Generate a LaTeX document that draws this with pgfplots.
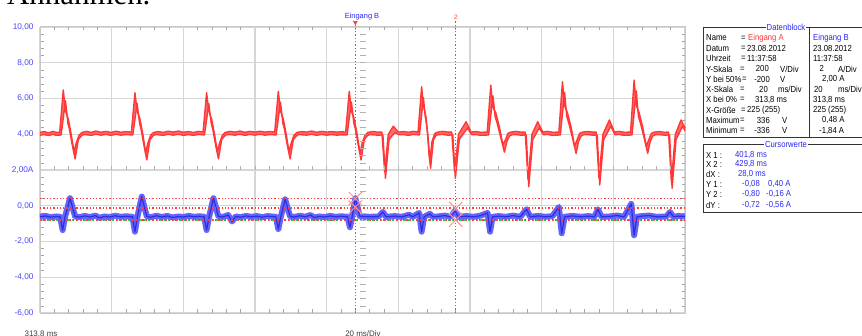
\documentclass[border=0pt]{standalone}
\usepackage{fontspec}
\setmainfont{Liberation Sans}
\newfontfamily\serifA{Liberation Serif}
\newfontfamily\tabfont[FakeStretch=0.88]{Liberation Sans}
\usepackage{pgfplots}
\usepackage{pgfplotstable}
\pgfplotsset{compat=1.18}
\definecolor{tickblue}{RGB}{70,70,255}
\definecolor{txtblue}{RGB}{40,40,240}
\definecolor{tred}{RGB}{255,55,55}
\definecolor{tredfill}{RGB}{255,110,110}
\definecolor{bband}{RGB}{100,100,248}
\definecolor{bline}{RGB}{45,45,225}
\definecolor{curred}{RGB}{255,60,60}
\definecolor{crossc}{RGB}{255,140,140}
\definecolor{gridc}{RGB}{214,214,214}
\definecolor{framec}{RGB}{200,200,200}
\definecolor{greenc}{RGB}{40,215,70}
\newcommand\tf{\tabfont\fontsize{8.8}{10}\selectfont}
% Eingang A: upper envelope
\pgfplotstableread[row sep=\\]{
x y\\
0 4.10\\ 1.2 4.15\\ 2.4 4.08\\ 3.6 4.16\\ 4.6 4.10\\ 5.5 4.12\\
6.5 6.48\\ 7.1 5.3\\ 7.9 4.85\\ 8.7 4.0\\ 9.5 3.02\\ 10.1 3.5\\ 10.9 3.95\\ 11.7 4.10\\
13.0 4.16\\ 14.3 4.10\\ 15.6 4.18\\ 17.0 4.11\\ 18.4 4.16\\ 19.8 4.10\\ 21.2 4.17\\ 22.6 4.11\\ 24.0 4.15\\ 25.5 4.12\\
26.5 6.32\\ 27.1 5.3\\ 27.9 4.85\\ 28.7 4.0\\ 29.5 2.96\\ 30.1 3.5\\ 30.9 3.95\\ 31.7 4.10\\
33.0 4.15\\ 34.4 4.10\\ 35.8 4.17\\ 37.2 4.12\\ 38.6 4.18\\ 40.0 4.11\\ 41.4 4.15\\ 42.8 4.10\\ 44.2 4.16\\ 45.5 4.12\\
46.5 6.32\\ 47.1 5.3\\ 47.9 4.85\\ 48.7 4.0\\ 49.5 3.02\\ 50.1 3.5\\ 50.9 3.95\\ 51.7 4.10\\
53.0 4.16\\ 54.4 4.12\\ 55.8 4.18\\ 57.2 4.11\\ 58.6 4.16\\ 60.0 4.12\\ 61.4 4.17\\ 62.8 4.12\\ 64.2 4.15\\ 65.5 4.12\\
66.5 6.40\\ 67.1 5.3\\ 67.9 4.85\\ 68.7 4.0\\ 69.5 3.02\\ 70.1 3.5\\ 70.9 3.95\\ 71.7 4.10\\
73.0 4.15\\ 74.4 4.12\\ 75.8 4.18\\ 77.2 4.11\\ 78.6 4.16\\ 80.0 4.12\\ 81.4 4.15\\ 82.8 4.12\\ 84.2 4.14\\ 85.3 4.12\\
86.3 6.40\\ 86.9 5.3\\ 87.7 4.85\\ 88.5 4.0\\ 89.3 2.96\\ 89.9 3.5\\ 90.7 3.95\\ 91.5 4.10\\
92.8 4.15\\ 94.2 4.12\\ 95.4 4.12\\
96.2 1.9\\ 97.2 4.0\\ 98.6 4.45\\ 100.0 4.12\\
101.4 4.15\\ 102.8 4.11\\ 104.2 4.16\\ 105.5 4.12\\
106.5 6.66\\ 107.0 5.6\\ 107.7 5.0\\ 108.4 3.6\\ 108.8 2.5\\ 109.4 3.6\\ 110.2 4.05\\ 111.0 4.12\\
112.4 4.16\\ 113.8 4.12\\ 114.9 4.12\\
115.7 1.9\\ 116.8 4.0\\ 118.9 4.7\\ 120.3 4.12\\
121.6 4.15\\ 123.0 4.11\\ 124.8 4.12\\
125.8 6.75\\ 126.4 5.5\\ 127.2 5.2\\ 128.2 4.4\\ 129.2 3.4\\ 129.9 3.7\\ 130.6 4.05\\ 131.4 4.12\\
132.8 4.16\\ 134.2 4.12\\ 135.4 4.12\\
136.2 1.45\\ 137.3 4.0\\ 138.9 4.7\\ 140.3 4.12\\
141.6 4.16\\ 143.0 4.11\\ 144.8 4.12\\
145.8 6.94\\ 146.4 5.6\\ 147.2 5.2\\ 148.2 4.4\\ 149.2 3.33\\ 149.9 3.7\\ 150.6 4.05\\ 151.4 4.12\\
152.8 4.15\\ 154.2 4.12\\ 155.2 4.12\\
156.0 1.55\\ 157.1 4.0\\ 158.9 4.8\\ 160.3 4.12\\
161.6 4.16\\ 163.0 4.11\\ 164.8 4.12\\
165.8 7.03\\ 166.4 5.6\\ 167.2 5.2\\ 168.2 4.4\\ 169.2 3.33\\ 169.9 3.7\\ 170.6 4.05\\ 171.4 4.12\\
172.8 4.15\\ 174.2 4.11\\ 175.4 4.12\\
176.2 1.35\\ 177.3 4.0\\ 178.9 4.8\\ 180.0 4.35\\
}\Ahi
% Eingang A: lower envelope, listed from right to left
\pgfplotstableread[row sep=\\]{
x y\\
180.0 4.2\\ 179.3 4.45\\ 177.5 3.7\\ 176.4 0.98\\
175.7 3.96\\ 174.2 3.95\\ 172.8 3.98\\
171.8 3.98\\ 171.0 3.9\\ 170.3 3.6\\ 169.6 2.93\\ 168.6 3.8\\ 167.6 4.6\\ 167.0 5.0\\ 166.4 6.43\\
165.2 3.96\\ 163.0 3.94\\ 161.6 3.99\\
160.5 3.97\\ 159.3 4.45\\ 157.3 3.7\\ 156.2 1.16\\
155.5 3.96\\ 154.2 3.95\\ 152.8 3.98\\
151.8 3.98\\ 151.0 3.9\\ 150.3 3.6\\ 149.6 2.93\\ 148.6 3.8\\ 147.6 4.6\\ 147.0 5.0\\ 146.4 6.34\\
145.2 3.96\\ 143.0 3.94\\ 141.6 3.99\\
140.5 3.97\\ 139.3 4.35\\ 137.5 3.7\\ 136.4 1.07\\
135.7 3.96\\ 134.2 3.95\\ 132.8 3.98\\
131.8 3.98\\ 131.0 3.9\\ 130.3 3.6\\ 129.6 3.0\\ 128.6 3.8\\ 127.6 4.6\\ 127.0 5.0\\ 126.4 6.15\\
125.2 3.96\\ 123.0 3.94\\ 121.6 3.98\\
120.5 3.97\\ 119.3 4.35\\ 117.0 3.7\\ 115.9 1.53\\
115.2 3.96\\ 113.8 3.95\\ 112.4 3.99\\
111.4 3.98\\ 110.6 3.95\\ 109.8 3.7\\ 109.0 2.1\\ 108.6 2.8\\ 108.0 4.4\\ 107.5 5.0\\ 107.0 6.06\\
105.9 3.96\\ 104.2 3.99\\ 102.8 3.94\\ 101.4 3.98\\
100.2 3.97\\ 99.0 4.1\\ 97.4 3.7\\ 96.4 1.53\\
95.7 3.96\\ 94.2 3.95\\ 92.8 3.97\\
91.9 3.98\\ 91.3 3.9\\ 90.5 3.7\\ 89.6 2.56\\ 88.8 3.4\\ 88.0 4.3\\ 87.6 4.6\\ 86.9 5.8\\
85.7 3.96\\ 84.2 3.97\\ 82.8 3.95\\ 81.4 3.98\\ 80.0 3.95\\ 78.6 3.99\\ 77.2 3.94\\ 75.8 4.0\\ 74.4 3.95\\ 73.0 3.97\\
72.1 3.98\\ 71.5 3.9\\ 70.7 3.7\\ 69.8 2.62\\ 69.0 3.4\\ 68.2 4.3\\ 67.8 4.6\\ 67.1 5.8\\
65.9 3.96\\ 64.2 3.98\\ 62.8 3.95\\ 61.4 4.0\\ 60.0 3.95\\ 58.6 3.99\\ 57.2 3.94\\ 55.8 4.0\\ 54.4 3.95\\ 53.0 3.98\\
52.1 3.98\\ 51.5 3.9\\ 50.7 3.7\\ 49.8 2.62\\ 49.0 3.4\\ 48.2 4.3\\ 47.8 4.6\\ 47.1 5.72\\
45.9 3.96\\ 44.2 3.99\\ 42.8 3.94\\ 41.4 3.98\\ 40.0 3.94\\ 38.6 4.0\\ 37.2 3.95\\ 35.8 4.0\\ 34.4 3.94\\ 33.0 3.97\\
32.1 3.98\\ 31.5 3.9\\ 30.7 3.7\\ 29.8 2.56\\ 29.0 3.4\\ 28.2 4.3\\ 27.8 4.6\\ 27.1 5.72\\
25.9 3.96\\ 24.0 3.98\\ 22.6 3.95\\ 21.2 4.0\\ 19.8 3.94\\ 18.4 3.99\\ 17.0 3.95\\ 15.6 4.0\\ 14.3 3.94\\ 13.0 3.97\\
12.1 3.98\\ 11.5 3.9\\ 10.7 3.7\\ 9.8 2.62\\ 9.0 3.4\\ 8.2 4.3\\ 7.8 4.6\\ 7.1 5.88\\
5.9 3.96\\ 4.6 3.94\\ 3.6 3.99\\ 2.4 3.93\\ 1.2 3.98\\ 0 3.95\\
}\AloR
\pgfplotstablevertcat{\Afill}{\Ahi}
\pgfplotstablevertcat{\Afill}{\AloR}
% Eingang B
\pgfplotstableread[row sep=\\]{
x y\\
0 -0.62\\ 1.5 -0.57\\ 3 -0.64\\ 4.5 -0.60\\ 5.6 -0.62\\ 6.33 -1.36\\ 6.9 -0.70\\ 8.37 0.42\\ 9.8 -0.60\\
11 -0.64\\ 12.5 -0.57\\ 14 -0.63\\ 15.5 -0.55\\ 16.5 -0.68\\ 18 -0.60\\ 19.5 -0.63\\ 21 -0.56\\ 22.5 -0.62\\ 24 -0.59\\
25.8 -0.62\\ 26.5 -1.45\\ 27.1 -0.70\\ 28.4 0.51\\ 29.8 -0.60\\
31 -0.64\\ 32.5 -0.56\\ 34 -0.63\\ 35.5 -0.57\\ 37 -0.66\\ 38.5 -0.60\\ 40 -0.63\\ 41.5 -0.57\\ 43 -0.62\\ 44.5 -0.59\\
45.8 -0.62\\ 46.5 -1.36\\ 47.1 -0.70\\ 48.4 0.42\\ 49.8 -0.60\\
51 -0.63\\ 52.5 -0.52\\ 53.6 -0.88\\ 54.6 -0.60\\ 56 -0.64\\ 57.5 -0.57\\ 59 -0.62\\ 60.5 -0.58\\ 62 -0.64\\ 63.5 -0.58\\
65.8 -0.62\\ 66.5 -1.30\\ 67.1 -0.70\\ 68.4 0.36\\ 69.8 -0.60\\
71 -0.63\\ 72.5 -0.56\\ 74 -0.62\\ 75.5 -0.52\\ 76.5 -0.66\\ 78 -0.60\\ 79.5 -0.63\\ 81 -0.57\\ 82.5 -0.62\\ 84 -0.59\\
85.8 -0.62\\ 86.5 -1.20\\ 87.1 -0.65\\ 88.0 0.42\\ 89.2 -0.58\\
90.5 -0.60\\ 92 -0.62\\ 94.5 -0.60\\ 95.7 -0.35\\ 96.6 -0.62\\ 99 -0.58\\ 101 -0.62\\ 103 -0.50\\ 104 -0.62\\
105.8 -0.40\\ 106.5 -1.45\\ 107.2 -0.62\\ 108.8 -0.45\\ 109.6 -0.62\\ 111 -0.60\\ 113 -0.55\\ 114.5 -0.62\\
115.8 -0.30\\ 116.8 -0.62\\ 119 -0.58\\ 121 -0.62\\ 123 -0.55\\
124.9 -0.40\\ 125.6 -1.45\\ 126.3 -0.62\\ 128 -0.58\\ 130 -0.62\\ 132 -0.55\\ 134 -0.62\\
135.8 -0.20\\ 136.8 -0.62\\ 139 -0.57\\ 141 -0.62\\ 143 -0.58\\
144.8 -0.07\\ 145.6 -1.54\\ 146.4 -0.62\\ 148.5 -0.57\\ 151 -0.62\\ 153 -0.58\\ 154.7 -0.62\\
155.7 -0.20\\ 156.7 -0.62\\ 159 -0.60\\ 161 -0.55\\ 163 -0.62\\
165.0 0.10\\ 165.8 -1.65\\ 166.6 -0.62\\ 168 -0.58\\ 170 -0.55\\ 172 -0.62\\ 174.8 -0.60\\
175.8 -0.35\\ 176.8 -0.62\\ 178 -0.58\\ 180 -0.60\\
}\tblB
\begin{document}
\begin{tikzpicture}
\begin{axis}[
  at={(40bp,23bp)}, anchor=south west,
  scale only axis, width=645bp, height=286bp,
  xmin=0, xmax=180, ymin=-6, ymax=10,
  xtick={0,20,...,180}, ytick={-6,-4,...,10},
  minor x tick num=4, minor y tick num=4,
  tick align=inside,
  major tick length=0pt, minor tick length=3.5bp,
  tick style={black!35, line width=0.6bp},
  grid=major, major grid style={gridc, line width=1.3bp},
  axis line style={framec, line width=1bp},
  xticklabels={},
  yticklabels={{-6,00},{-4,00},{-2,00},{0,00},{2,00A},{4,00},{6,00},{8,00},{10,00}},
  yticklabel style={font=\fontsize{8.3}{9}\selectfont, text=tickblue, xshift=-3bp},
  clip=false,
]
\addplot[greenc, line width=1.3bp, dash pattern=on 1.5bp off 2.5bp] coordinates {(0,-0.80) (180,-0.80)};
\addplot[fill=tredfill, draw=none] table[x=x,y=y] {\Afill};
\addplot[tred, line width=1.4bp, line join=round] table[x=x,y=y] {\Ahi};
\addplot[tred, line width=1.4bp, line join=round] table[x=x,y=y] {\AloR};
\addplot[bband, line width=6bp, line join=round] table[x=x,y=y] {\tblB};
\addplot[bline, line width=1.2bp, line join=round] table[x=x,y=y] {\tblB};
\addplot[curred, line width=1.3bp, dash pattern=on 1.3bp off 2bp] coordinates {(0,0.40) (180,0.40)};
\addplot[curred, line width=1.3bp, dash pattern=on 1.3bp off 2bp] coordinates {(0,-0.08) (180,-0.08)};
\addplot[curred, line width=1.3bp, dash pattern=on 1.3bp off 2bp] coordinates {(0,-0.16) (180,-0.16)};
\addplot[curred, line width=1.3bp, dash pattern=on 1.3bp off 2bp] coordinates {(0,-0.80) (180,-0.80)};
\addplot[curred, line width=1.1bp, dash pattern=on 1.3bp off 2bp] coordinates {(88,-6) (88,10.35)};
\addplot[curred, line width=1.1bp, dash pattern=on 1.3bp off 2bp] coordinates {(116,-6) (116,10.35)};
\addplot[only marks, mark=x, mark size=9.5bp, crossc, mark options={line width=1bp}] coordinates {(88,0.40) (88,-0.08) (116,-0.16) (116,-0.80)};
\addplot[only marks, mark=triangle*, mark size=2.2bp, curred, mark options={rotate=180}] coordinates {(88,10.25)};
\end{axis}
\foreach \k in {1,...,44} \draw[black!30, line width=0.6bp] ({(40+14.3333*\k)*1bp},166bp) -- ++(0,3.5bp);
\foreach \j in {1,...,39} \draw[black!30, line width=0.6bp] (360bp,{(23+7.15*\j)*1bp}) -- ++(6bp,0);
\node[font=\fontsize{7.5}{8}\selectfont, text=txtblue, inner sep=0] at (362bp,319bp) {Eingang B};
\node[font=\fontsize{6.5}{7}\selectfont, text=curred, inner sep=0] at (456bp,319bp) {2};
\node[anchor=north, font=\fontsize{8}{9}\selectfont, text=black!75, inner sep=0] at (41bp,5bp) {313,8 ms};
\node[anchor=north, font=\fontsize{8}{9}\selectfont, text=black!75, inner sep=0] at (363bp,5bp) {20 ms/Div};
\node[anchor=base west, font=\serifA\fontsize{31}{33}\selectfont, inner sep=0] at (7bp,331.5bp) {Annahmen.};
% data block
\draw[black!80, line width=0.6bp] (862bp,309bp) -- (703bp,309bp) -- (703bp,199bp) -- (862bp,199bp);
\draw[black!80, line width=0.6bp] (809bp,309bp) -- (809bp,199bp);
\node[fill=white, inner sep=1bp, font=\tf, text=txtblue] at (786bp,309bp) {Datenblock};
\begin{scope}[every node/.style={font=\tf, inner sep=0, anchor=west}]
\node at (706bp,298bp) {Name};
\node at (706bp,287.7bp) {Datum};
\node at (706bp,277.4bp) {Uhrzeit};
\node at (706bp,267.1bp) {Y-Skala};
\node at (706bp,256.8bp) {Y bei 50\%};
\node at (706bp,246.5bp) {X-Skala};
\node at (706bp,236.2bp) {X bei 0\%};
\node at (706bp,225.9bp) {X-Größe};
\node at (706bp,215.6bp) {Maximum};
\node at (706bp,205.3bp) {Minimum};
\node at (741bp,298bp) {=};
\node at (741bp,287.7bp) {=};
\node at (741bp,277.4bp) {=};
\node at (740bp,267.1bp) {=};
\node at (742bp,256.8bp) {=};
\node at (740bp,246.5bp) {=};
\node at (740bp,236.2bp) {=};
\node at (741bp,225.9bp) {=};
\node at (740bp,215.6bp) {=};
\node at (740bp,205.3bp) {=};
\node[text=tred] at (748bp,298bp) {Eingang A};
\node at (747bp,287.7bp) {23.08.2012};
\node at (747bp,277.4bp) {11:37:58};
\node[anchor=east] at (769bp,267.1bp) {200};
\node at (780bp,267.1bp) {V/Div};
\node[anchor=east] at (770bp,256.8bp) {-200};
\node at (780bp,256.8bp) {V};
\node[anchor=east] at (768bp,246.5bp) {20};
\node at (778bp,246.5bp) {ms/Div};
\node at (755bp,236.2bp) {313,8 ms};
\node at (747bp,225.9bp) {225 (255)};
\node[anchor=east] at (770bp,215.6bp) {336};
\node at (782bp,215.6bp) {V};
\node[anchor=east] at (770bp,205.3bp) {-336};
\node at (782bp,205.3bp) {V};
\node[text=txtblue] at (813bp,298bp) {Eingang B};
\node at (813bp,287.7bp) {23.08.2012};
\node at (813bp,277.4bp) {11:37:58};
\node[anchor=east] at (824bp,267.1bp) {2};
\node at (838bp,267.1bp) {A/Div};
\node at (822bp,256.8bp) {2,00 A};
\node at (814bp,246.5bp) {20};
\node at (838bp,246.5bp) {ms/Div};
\node at (813bp,236.2bp) {313,8 ms};
\node at (813bp,225.9bp) {225 (255)};
\node at (822bp,215.6bp) {0,48 A};
\node at (819bp,205.3bp) {-1,84 A};
\end{scope}
% cursor block
\draw[black!80, line width=0.6bp] (862bp,192bp) -- (703bp,192bp) -- (703bp,123.5bp) -- (862bp,123.5bp);
\node[fill=white, inner sep=1bp, font=\tf, text=txtblue] at (786bp,192bp) {Cursorwerte};
\begin{scope}[every node/.style={font=\tf, inner sep=0, anchor=west}]
\node at (706bp,181bp) {X 1 :};
\node at (706bp,171.5bp) {X 2 :};
\node at (706bp,162bp) {dX :};
\node at (706bp,152bp) {Y 1 :};
\node at (706bp,141.5bp) {Y 2 :};
\node at (706bp,131bp) {dY :};
\node[text=txtblue] at (735bp,181bp) {401,8 ms};
\node[text=txtblue] at (735bp,171.5bp) {429,8 ms};
\node[text=txtblue] at (738bp,162bp) {28,0 ms};
\node[text=txtblue, anchor=east] at (760bp,152bp) {-0,08};
\node[text=txtblue, anchor=east] at (760bp,141.5bp) {-0,80};
\node[text=txtblue, anchor=east] at (760bp,131bp) {-0,72};
\node[text=txtblue] at (768bp,152bp) {0,40 A};
\node[text=txtblue] at (766bp,141.5bp) {-0,16 A};
\node[text=txtblue] at (766bp,131bp) {-0,56 A};
\end{scope}
\pgfresetboundingbox
\path[use as bounding box] (0,0) rectangle (862bp,336bp);
\end{tikzpicture}
\end{document}
